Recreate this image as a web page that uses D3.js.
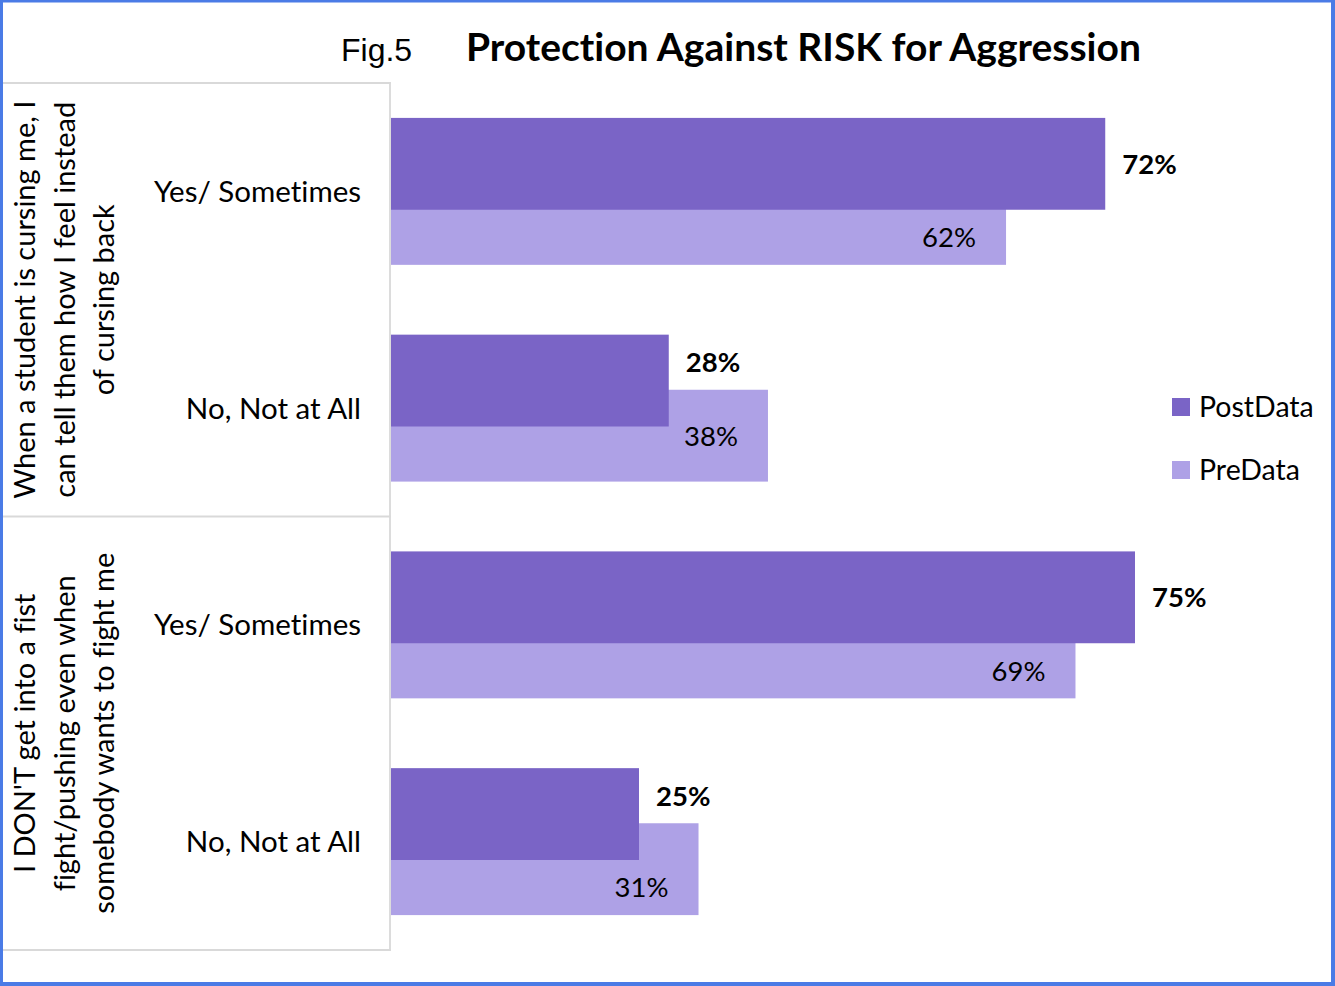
<!DOCTYPE html>
<html>
<head>
<meta charset="utf-8">
<script src="https://cdn.jsdelivr.net/npm/d3@7"></script>
<style>
  html, body { margin: 0; padding: 0; background: #ffffff; }
  svg { display: block; }
  text { font-variant-ligatures: none; font-feature-settings: "liga" 0, "clig" 0; }
</style>
</head>
<body>
<svg id="chart" width="1335" height="986"></svg>
<script>
// ---- data ----
const groups = [
  ["When a student is cursing me, I", "can tell them how I feel instead", "of cursing back"],
  ["I DON'T get into a fist", "fight/pushing even when", "somebody wants to fight me"]
];
const answers = ["Yes/ Sometimes", "No, Not at All"];
const seriesNames = ["PostData", "PreData"];
const postData = [0.72, 0.28, 0.75, 0.25];
const preData = [0.62, 0.38, 0.69, 0.31];
const seriesColors = ["#7A64C6", "#AEA1E6"];

// ---- layout ----
const W = 1335, H = 986;
const plot = { left: 391, top: 83, bottom: 950, right: 1383 };
const gapWidth = 0.76;   // space between clusters, as a share of one bar
const overlap = 0.40;    // how much the second bar slides under the first
const font = "Lato, 'Open Sans', sans-serif";

const svg = d3.select("#chart");

// rows: each group contributes one row per answer
const rows = [];
groups.forEach((g, gi) => answers.forEach((a, ai) => {
  const i = gi * answers.length + ai;
  rows.push({ group: gi, answer: a, post: postData[i], pre: preData[i], key: i });
}));

const x = d3.scaleLinear().domain([0, 1]).range([plot.left, plot.right]);
const y = d3.scaleBand().domain(rows.map(r => r.key)).range([plot.top, plot.bottom]);

const bw = y.bandwidth();
const barH = bw / (2 - overlap + gapWidth);
const step = barH * (1 - overlap);
const clusterTop = k => y(k) + bw / 2 - (barH + step) / 2;

// ---- category axis frame (multi-level) ----
const axisColor = "#D9D9D9";
const frame = svg.append("g");
const groupEdges = d3.range(groups.length + 1).map(i => plot.top + i * answers.length * bw);
frame.selectAll("line.h").data(groupEdges).join("line")
  .attr("x1", 3).attr("x2", plot.left - 0.5)
  .attr("y1", d => d).attr("y2", d => d)
  .attr("stroke", axisColor).attr("stroke-width", 1.8);
frame.append("line")
  .attr("x1", plot.left - 1).attr("x2", plot.left - 1)
  .attr("y1", plot.top - 1).attr("y2", plot.bottom + 1)
  .attr("stroke", axisColor).attr("stroke-width", 1.8);

// answer labels
svg.append("g").selectAll("text").data(rows).join("text")
  .attr("x", 361)
  .attr("y", d => y(d.key) + bw / 2)
  .attr("dy", "0.36em")
  .attr("text-anchor", "end")
  .attr("font-family", font).attr("font-size", 29.5).attr("fill", "#000")
  .text(d => d.answer);

// group labels, rotated
const gl = svg.append("g").selectAll("text").data(groups).join("text")
  .attr("transform", (d, i) => `translate(0,${(groupEdges[i] + groupEdges[i + 1]) / 2}) rotate(-90)`)
  .attr("text-anchor", "middle")
  .attr("font-family", font).attr("font-size", 29).attr("fill", "#000");
gl.selectAll("tspan").data(d => d).join("tspan")
  .attr("x", 0).attr("y", (d, i) => 35 + i * 39.5)
  .text(d => d);

// ---- bars: PreData drawn first so PostData sits on top ----
const bars = svg.append("g");
bars.selectAll("rect.pre").data(rows).join("rect")
  .attr("class", "pre")
  .attr("x", x(0)).attr("y", d => clusterTop(d.key) + step)
  .attr("width", d => x(d.pre) - x(0)).attr("height", barH)
  .attr("fill", seriesColors[1]);
bars.selectAll("rect.post").data(rows).join("rect")
  .attr("class", "post")
  .attr("x", x(0)).attr("y", d => clusterTop(d.key))
  .attr("width", d => x(d.post) - x(0)).attr("height", barH)
  .attr("fill", seriesColors[0]);

// ---- value labels, moved into the visible part of a bar when they would collide ----
const pct = d3.format(".0%");
const labels = svg.append("g").attr("font-family", font).attr("font-size", 27.5).attr("fill", "#000");

// PostData: outside end, bold
labels.selectAll("text.post").data(rows).join("text")
  .attr("class", "post")
  .attr("x", d => x(d.post) + 17)
  .attr("y", d => {
    const top = clusterTop(d.key);
    // beyond the bar end the PreData bar would sit under the label: use the free strip above it
    return d.post < d.pre ? top + step / 2 : top + barH / 2;
  })
  .attr("dy", "0.36em")
  .attr("font-weight", "bold")
  .text(d => pct(d.post));

// PreData: inside end
const preInset = 30;
const preLabels = labels.selectAll("text.pre").data(rows).join("text")
  .attr("class", "pre")
  .attr("x", d => x(d.pre) - preInset)
  .attr("text-anchor", "end")
  .attr("dy", "0.36em")
  .text(d => pct(d.pre));
preLabels.attr("y", function(d) {
  const top = clusterTop(d.key) + step;
  const left = x(d.pre) - preInset - this.getComputedTextLength();
  // a label reaching under the PostData bar goes to the uncovered strip below it
  return left < x(d.post) ? (clusterTop(d.key) + barH + top + barH) / 2 : top + barH / 2;
});

// ---- legend ----
const legend = svg.append("g").selectAll("g").data(seriesNames).join("g")
  .attr("transform", (d, i) => `translate(1172,${398 + i * 63})`);
legend.append("rect").attr("width", 18).attr("height", 18)
  .attr("fill", (d, i) => seriesColors[i]);
legend.append("text").attr("x", 27).attr("y", 9).attr("dy", "0.36em")
  .attr("font-family", font).attr("font-size", 28.5).attr("fill", "#000")
  .text(d => d);

// ---- titles ----
svg.append("text").attr("x", 341).attr("y", 61)
  .attr("font-family", "'Liberation Sans', Arial, sans-serif").attr("font-size", 32).attr("fill", "#000")
  .text("Fig.5");
svg.append("text").attr("x", 466).attr("y", 61)
  .attr("font-family", font).attr("font-size", 39).attr("font-weight", "bold").attr("fill", "#000")
  .text("Protection Against RISK for Aggression");

// ---- outer border ----
svg.append("rect").attr("x", 1).attr("y", 0.5).attr("width", 1332).attr("height", 983.5)
  .attr("fill", "none").attr("stroke", "#4A7BE6").attr("stroke-width", 4);
</script>
</body>
</html>
